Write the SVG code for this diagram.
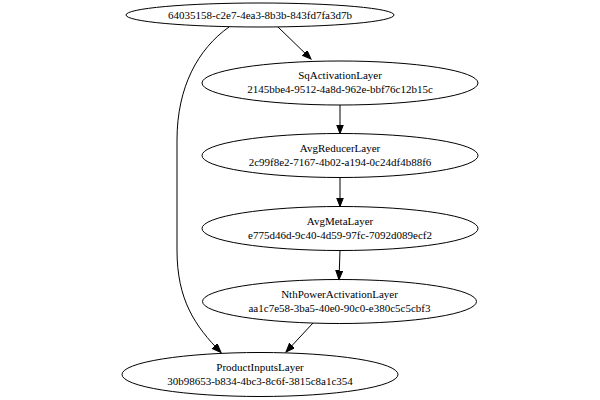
<svg xmlns="http://www.w3.org/2000/svg" width="600" height="400" viewBox="0 0 600 400">
<style>
.n ellipse{fill:none;stroke:#000;stroke-width:1}
.n text{font-family:"Liberation Serif","Times New Roman",serif;font-size:11px;text-anchor:middle;fill:#000}
.e path{fill:none;stroke:#000;stroke-width:1}
</style>
<defs>
<marker id="ah" markerUnits="userSpaceOnUse" markerWidth="10" markerHeight="8" refX="9" refY="3.5" orient="auto">
<path d="M0,0 L9,3.5 L0,7 z" fill="#000" stroke="#000" stroke-width="1"/>
</marker>
</defs>
<rect width="600" height="400" fill="#fff"/>
<g class="e">
<path d="M278,27 L311,59" marker-end="url(#ah)"/>
<path d="M340,105 L340,133.5" marker-end="url(#ah)"/>
<path d="M340,177.5 L340,206.5" marker-end="url(#ah)"/>
<path d="M340,250.5 L339,279.5" marker-end="url(#ah)"/>
<path d="M313,323 L286,352" marker-end="url(#ah)"/>
<path d="M229,27 C198,49 177,87 177,140 L177,250 C177,300 195,326 221,352.5" marker-end="url(#ah)"/>
</g>
<g class="n" id="n0"><ellipse cx="260" cy="15" rx="134" ry="12"/><text x="260" y="19">64035158-c2e7-4ea3-8b3b-843fd7fa3d7b</text></g>
<g class="n" id="n1"><ellipse cx="340" cy="83" rx="138" ry="22"/><text x="340" y="79">SqActivationLayer</text><text x="340" y="93">2145bbe4-9512-4a8d-962e-bbf76c12b15c</text></g>
<g class="n" id="n2"><ellipse cx="340" cy="155.5" rx="138" ry="22"/><text x="340" y="151.5">AvgReducerLayer</text><text x="340" y="165.5">2c99f8e2-7167-4b02-a194-0c24df4b88f6</text></g>
<g class="n" id="n3"><ellipse cx="340" cy="228.5" rx="138" ry="22"/><text x="340" y="224.5">AvgMetaLayer</text><text x="340" y="238.5">e775d46d-9c40-4d59-97fc-7092d089ecf2</text></g>
<g class="n" id="n4"><ellipse cx="339.5" cy="301.5" rx="137" ry="22"/><text x="339.5" y="297.5">NthPowerActivationLayer</text><text x="339.5" y="311.5">aa1c7e58-3ba5-40e0-90c0-e380c5c5cbf3</text></g>
<g class="n" id="n5"><ellipse cx="260" cy="374.5" rx="138" ry="22"/><text x="260" y="370.5">ProductInputsLayer</text><text x="260" y="384.5">30b98653-b834-4bc3-8c6f-3815c8a1c354</text></g>
</svg>
